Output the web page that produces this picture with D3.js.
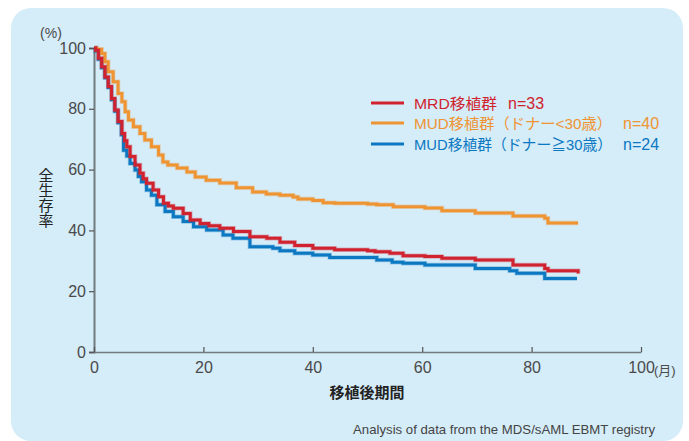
<!DOCTYPE html>
<html>
<head>
<meta charset="utf-8">
<script src="https://cdn.jsdelivr.net/npm/d3@7"></script>
<style>
  body { margin: 0; background: #fff; }
  svg text { font-family: "Liberation Sans", Arial, "Noto Sans CJK JP", sans-serif; }
</style>
</head>
<body>
<div id="chart"></div>
<script>
// Kaplan-Meier curves (months, % survival)
var mrdTime = [0, 0.3, 0.8, 1.4, 2.0, 2.6, 3.2, 3.8, 4.4, 5.1, 5.6, 6.0, 6.6, 7.5, 8.4, 9.0, 9.6, 10.8, 11.8, 12.7, 13.6, 14.5, 16.3, 17.6, 19.4, 21.0, 23.0, 25.5, 28.5, 31.6, 34.0, 36.7, 40.0, 44.0, 50.0, 51.4, 54.1, 56.5, 60.5, 63.6, 69.7, 76.6, 82.4, 83.0, 88.5];
var mrdSurv = [100, 99.3, 96.6, 93.8, 90.5, 87.3, 83.4, 79.6, 75.8, 71.9, 69.5, 67.5, 64.3, 61.5, 58.8, 57, 55.5, 53.3, 51.1, 48.9, 48, 47.3, 45.6, 43.4, 42.3, 41.5, 40.7, 39.6, 37.9, 37.4, 36.1, 35, 34.1, 33.6, 33.3, 33, 32.5, 31.7, 31.4, 30.8, 30.3, 28.6, 27.5, 26.7, 25.8];

var mudYoungTime = [0, 0.5, 1.4, 2.0, 2.6, 3.5, 4.4, 5.1, 5.7, 6.3, 7.2, 8.4, 9.3, 10.5, 11.8, 12.6, 13.5, 15.2, 17.0, 18.5, 20.5, 23.0, 26.0, 29.0, 31.5, 34.0, 36.4, 37.3, 40.0, 41.9, 44.0, 50.0, 51.7, 54.7, 60.5, 63.6, 69.7, 76.6, 82.4, 83.0, 88.5];
var mudYoungSurv = [100, 99.6, 98.2, 95.5, 92.2, 88.9, 85, 82.3, 79, 76.3, 74.1, 71.9, 69.7, 67.5, 64.8, 62.5, 61.5, 60.5, 59.2, 57.6, 56.5, 55.6, 54, 52.6, 52, 51.6, 51, 50.3, 49.8, 49.1, 48.9, 48.7, 48.4, 47.8, 47.4, 46.5, 45.7, 44.7, 44, 42.4, 42.4];

var mudOldTime = [0, 0.3, 0.8, 1.4, 2.0, 2.6, 3.2, 3.8, 4.4, 5.0, 5.4, 6.0, 6.6, 7.5, 8.1, 8.7, 9.6, 10.5, 11.5, 13.0, 14.5, 16.3, 18.2, 20.6, 23.6, 25.4, 28.5, 32.7, 34.0, 36.7, 40.0, 43.1, 51.7, 54.5, 56.5, 60.5, 69.7, 76.0, 77.3, 82.4, 88.3];
var mudOldSurv = [100, 99, 96.3, 93.5, 90.2, 87, 83, 79.2, 75.4, 71.5, 66.4, 64.5, 62, 59.9, 57.7, 56, 53.3, 51.6, 48.4, 46.2, 44.5, 42.9, 41.2, 40.1, 38.5, 37.4, 34.6, 34.1, 33.3, 32.5, 31.9, 31.1, 30.3, 29.5, 29.2, 28.6, 27.5, 26.7, 25.9, 24.2, 24.2];

var xTicks = [0, 20, 40, 60, 80, 100];
var yTicks = [0, 20, 40, 60, 80, 100];

var legendLabels = ["MRD移植群", "MUD移植群（ドナー<30歳）", "MUD移植群（ドナー≧30歳）"];
var legendCounts = ["n=33", "n=40", "n=24"];

var width = 689, height = 441;

var svg = d3.select("#chart").append("svg")
    .attr("width", width)
    .attr("height", height);

// light blue panel
svg.append("rect")
    .attr("x", 11).attr("y", 8)
    .attr("width", 672).attr("height", 433)
    .attr("rx", 20).attr("ry", 20)
    .attr("fill", "#d5ecf9");

var x = d3.scaleLinear().domain([0, 100]).range([94, 641]);
var y = d3.scaleLinear().domain([0, 100]).range([352, 48]);

// y axis
var yAxis = svg.append("g")
    .attr("transform", "translate(94,0)")
    .call(d3.axisLeft(y).tickValues(yTicks).tickSize(5).tickPadding(3));
yAxis.select(".domain").attr("stroke", "#737b80").attr("stroke-width", 2);
yAxis.selectAll(".tick line").attr("stroke", "#555").attr("stroke-width", 1.2);
yAxis.selectAll(".tick text")
    .attr("fill", "#4a4a4a").style("font-size", "16px");

// x axis (ticks point up)
var xAxis = svg.append("g")
    .attr("transform", "translate(0,352)")
    .call(d3.axisBottom(x).tickValues(xTicks).tickSize(-5).tickPadding(10).tickSizeOuter(0));
xAxis.select(".domain").attr("stroke", "#737b80").attr("stroke-width", 1.6);
xAxis.selectAll(".tick line").attr("stroke", "#555").attr("stroke-width", 1.2);
xAxis.selectAll(".tick text")
    .attr("fill", "#4a4a4a").style("font-size", "16px");

svg.append("text")
    .text("(月)")
    .attr("x", x(100) + 13).attr("y", 375)
    .attr("fill", "#4a4a4a")
    .style("font-size", "13px");

svg.append("text")
    .text("(%)")
    .attr("x", 51).attr("y", 38)
    .attr("text-anchor", "middle")
    .attr("fill", "#4a4a4a")
    .style("font-size", "14px");

// axis titles
svg.append("text")
    .text("全生存率")
    .attr("writing-mode", "vertical-rl")
    .attr("x", 46).attr("y", 198)
    .attr("text-anchor", "middle")
    .attr("fill", "#222")
    .style("font-family", "'Noto Sans CJK JP', sans-serif")
    .style("font-size", "15px");

svg.append("text")
    .text("移植後期間")
    .attr("x", 367).attr("y", 398)
    .attr("text-anchor", "middle")
    .attr("fill", "#222")
    .style("font-size", "15px")
    .style("font-weight", "bold");

svg.append("text")
    .text("Analysis of data from the MDS/sAML EBMT registry")
    .attr("x", 655).attr("y", 434)
    .attr("text-anchor", "end")
    .attr("fill", "#444")
    .style("font-size", "13.2px");

// curves
var series = [
  {time: mudOldTime, surv: mudOldSurv, color: "#0b78c1"},
  {time: mudYoungTime, surv: mudYoungSurv, color: "#ef9433"},
  {time: mrdTime, surv: mrdSurv, color: "#d0232f"}
];

var line = d3.line()
    .curve(d3.curveStepAfter)
    .x(function(d) { return x(d[0]); })
    .y(function(d) { return y(d[1]); });

series.forEach(function(s) {
  var pts = s.time.map(function(t, i) { return [t, s.surv[i]]; });
  svg.append("path")
      .datum(pts)
      .attr("fill", "none")
      .attr("stroke", s.color)
      .attr("stroke-opacity", 0.3)
      .attr("stroke-width", 4.5)
      .attr("d", line);
  svg.append("path")
      .datum(pts)
      .attr("fill", "none")
      .attr("stroke", s.color)
      .attr("stroke-width", 3)
      .attr("d", line);
});

// legend
var legendColors = ["#d0232f", "#ef9433", "#0b78c1"];
var legendY = [103, 123, 144];
var countX = [508, 623, 623];
var labelWidth = [83, 198, 198];
legendLabels.forEach(function(lab, i) {
  svg.append("line")
      .attr("x1", 371).attr("x2", 404)
      .attr("y1", legendY[i]).attr("y2", legendY[i])
      .attr("stroke", legendColors[i])
      .attr("stroke-width", 3);
  svg.append("text")
      .text(lab)
      .attr("x", 414).attr("y", legendY[i] + 6)
      .attr("textLength", labelWidth[i])
      .attr("lengthAdjust", "spacingAndGlyphs")
      .attr("fill", legendColors[i])
      .style("font-size", "15px");
  svg.append("text")
      .text(legendCounts[i])
      .attr("x", countX[i]).attr("y", legendY[i] + 6)
      .attr("fill", legendColors[i])
      .style("font-size", "16px");
});
</script>
</body>
</html>
